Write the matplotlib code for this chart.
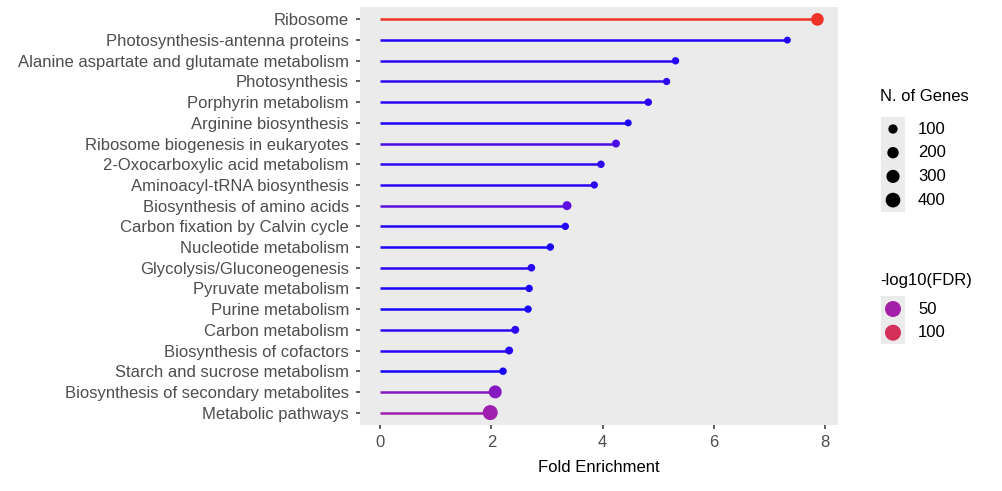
import numpy as np
import matplotlib
matplotlib.use("Agg")
import matplotlib.pyplot as plt
from matplotlib.colors import LinearSegmentedColormap, Normalize
from matplotlib.patches import Rectangle

plt.rcParams['font.family'] = ['Liberation Sans', 'DejaVu Sans']

# pathways, top to bottom
pathways = [
    "Ribosome",
    "Photosynthesis-antenna proteins",
    "Alanine aspartate and glutamate metabolism",
    "Photosynthesis",
    "Porphyrin metabolism",
    "Arginine biosynthesis",
    "Ribosome biogenesis in eukaryotes",
    "2-Oxocarboxylic acid metabolism",
    "Aminoacyl-tRNA biosynthesis",
    "Biosynthesis of amino acids",
    "Carbon fixation by Calvin cycle",
    "Nucleotide metabolism",
    "Glycolysis/Gluconeogenesis",
    "Pyruvate metabolism",
    "Purine metabolism",
    "Carbon metabolism",
    "Biosynthesis of cofactors",
    "Starch and sucrose metabolism",
    "Biosynthesis of secondary metabolites",
    "Metabolic pathways",
]
fold_enrichment = [7.86, 7.32, 5.31, 5.15, 4.82, 4.46, 4.24, 3.97, 3.85, 3.36,
                   3.33, 3.06, 2.72, 2.68, 2.66, 2.43, 2.32, 2.21, 2.07, 1.98]
n_genes = [270, 10, 25, 20, 30, 12, 45, 30, 22, 85,
           22, 28, 32, 25, 25, 45, 45, 28, 290, 420]
neg_log_fdr = [128, 8, 10, 12, 10, 6, 20, 12, 10, 25,
               8, 6, 10, 6, 5, 12, 10, 4, 40, 48]

size_breaks = [100, 200, 300, 400]
color_breaks = [50, 100]

# blue -> purple -> red gradient
cmap = LinearSegmentedColormap.from_list(
    "fdr", [(0.0, "#0A00FF"), (0.19, "#5A10E0"), (0.385, "#A41FA8"),
            (0.77, "#D5305A"), (1.0, "#EE3324")])
norm = Normalize(vmin=0, vmax=130)

# dot area (px^2) grows linearly with gene count
D0, K = 44.0, 0.43


def marker_area(n):
    d = np.sqrt(D0 + K * np.asarray(n))
    return (d * 72 / 100) ** 2


W, H = 1002, 491
fig = plt.figure(figsize=(W / 100, H / 100), dpi=100)
ax = fig.add_axes([360 / W, (H - 425) / H, 478 / W, 418 / H])
ax.set_facecolor("#EBEBEB")

y = np.arange(len(pathways))[::-1] + 1
colors = cmap(norm(neg_log_fdr))
ax.hlines(y, 0, fold_enrichment, colors=colors, linewidth=1.8, zorder=2)
ax.scatter(fold_enrichment, y, s=marker_area(n_genes), c=colors,
           edgecolors="none", zorder=3)

ax.set_xlim(-0.36, 8.23)
ax.set_ylim(0.4, len(pathways) + 0.6)
ax.set_yticks(y)
ax.set_yticklabels(pathways)
ax.set_xticks([0, 2, 4, 6, 8])
for s in ax.spines.values():
    s.set_visible(False)
ax.tick_params(length=3, width=1.1, color="#333333", labelcolor="#4D4D4D",
               labelsize=12)
ax.tick_params(axis="y", pad=5)
ax.tick_params(axis="x", pad=4.5)
ax.set_xlabel("Fold Enrichment", fontsize=12, color="black", labelpad=7)

# legends drawn in pixel coordinates
lg = fig.add_axes([0, 0, 1, 1], zorder=5)
lg.set_xlim(0, W)
lg.set_ylim(H, 0)
lg.axis("off")

lg.text(880, 96, "N. of Genes", fontsize=12, va="center", ha="left")
lg.add_patch(Rectangle((881, 117), 24, 95, color="#EBEBEB", lw=0))
for i, b in enumerate(size_breaks):
    yy = 129 + i * 23.7
    lg.scatter([893], [yy], s=marker_area(b), c="black", edgecolors="none")
    lg.text(918, yy, str(b), fontsize=12, va="center", ha="left")

lg.text(880, 281, "-log10(FDR)", fontsize=12, va="center", ha="left")
lg.add_patch(Rectangle((881, 296), 24, 48, color="#EBEBEB", lw=0))
for i, b in enumerate(color_breaks):
    yy = 309 + i * 23.7
    lg.scatter([893], [yy], s=(16 * 0.72) ** 2, color=cmap(norm(b)), edgecolors="none")
    lg.text(918, yy, str(b), fontsize=12, va="center", ha="left")

fig.savefig("out.png", dpi=100)
